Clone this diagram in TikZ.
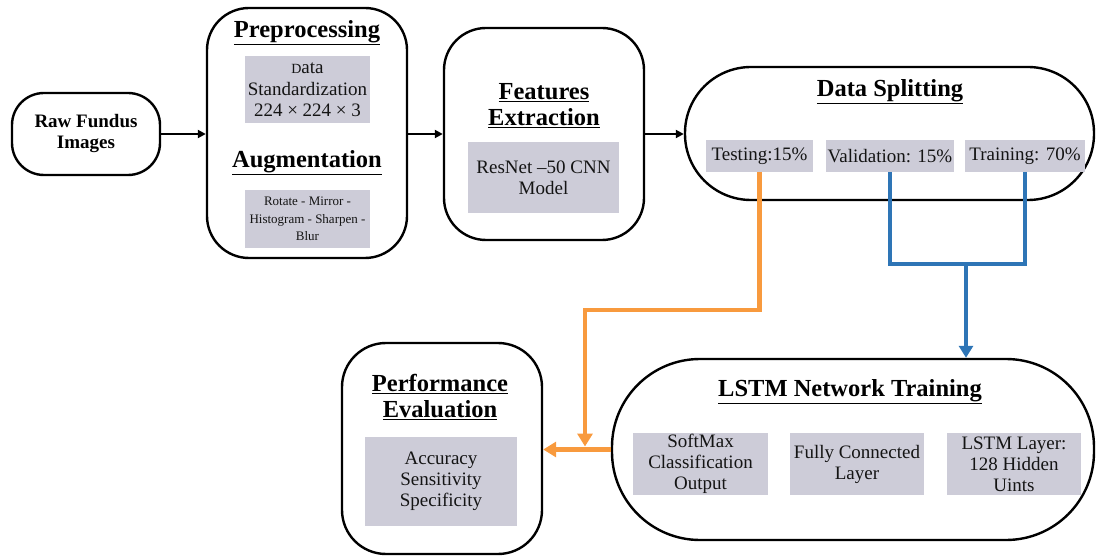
\documentclass[tikz,border=0pt]{standalone}
\usepackage{fontspec}
\setmainfont{Liberation Serif}
\usepackage{xcolor}
\usetikzlibrary{arrows.meta, positioning}
\definecolor{boxgray}{RGB}{205, 204, 216}
\definecolor{splitorange}{RGB}{248, 154, 62}
\definecolor{splitblue}{RGB}{46, 117, 182}
\newcommand{\fsz}[2]{\fontsize{#1}{#2}\selectfont}

\begin{document}
\begin{tikzpicture}[x=1pt, y=-1pt, >={Triangle[length=9pt, width=9pt]},
  blk/.style={draw=black, line width=2.4pt, fill=white},
  gbox/.style={fill=boxgray, inner sep=0pt, align=center, text=black!92},
  ttl/.style={font=\bfseries\fontsize{24.5}{26}\selectfont, align=center, inner sep=0pt},
  link/.style={line width=2pt, ->, >={Triangle[length=8pt, width=8pt]}},
  orng/.style={draw=splitorange, line width=4.5pt},
  blu/.style={draw=splitblue, line width=4.5pt}]
  \useasboundingbox (0,0) rectangle (1096,556);

  % stage boxes
  \node[blk, rounded corners=32pt, minimum width=148pt, minimum height=82pt,
        font=\bfseries\fontsize{19}{21}\selectfont, align=center] (raw) at (86,134) {Raw Fundus\\Images};
  \node[blk, rounded corners=42pt, minimum width=200pt, minimum height=250pt] (pre) at (307,133) {};
  \node[blk, rounded corners=42pt, minimum width=200pt, minimum height=212pt] (feat) at (544,134) {};
  \node[blk, rounded corners=66pt, minimum width=409pt, minimum height=133pt] (split) at (889.5,133.5) {};
  \node[blk, rounded corners=88pt, minimum width=482pt, minimum height=181pt] (lstm) at (853,449.5) {};
  \node[blk, rounded corners=44pt, minimum width=200pt, minimum height=211pt] (perf) at (442,448.5) {};

  % titles
  \node[ttl] (preT) at (307,33) {\underline{Preprocessing}};
  \node[ttl] (augT) at (307,163) {\underline{Augmentation}};
  \node[ttl] (featT) at (544,106) {\underline{Features}\\[0pt]\underline{Extraction}};
  \node[ttl] (splitT) at (890,92) {\underline{Data Splitting}};
  \node[ttl] (lstmT) at (850,392) {\underline{LSTM Network Training}};
  \node[ttl] (perfT) at (440,397) {\underline{Performance}\\[0pt]\underline{Evaluation}};

  % gray content boxes
  \node[gbox, minimum width=125pt, minimum height=67pt, font=\fsz{19}{21.5}] (std) at (307.5,90)
    {{\fsz{14}{14}D}ata\\Standardization\\224 × 224 × 3};
  \node[gbox, minimum width=125pt, minimum height=58pt, font=\fsz{13}{17.5}] (aug) at (307.5,219)
    {Rotate - Mirror -\\Histogram - Sharpen -\\Blur};
  \node[gbox, minimum width=151pt, minimum height=71pt, font=\fsz{19}{21}] (resnet) at (543.5,177.5)
    {ResNet –50 CNN\\Model};
  \node[gbox, minimum width=107pt, minimum height=32pt, font=\fsz{19}{21}] (test) at (759.5,156) {Testing:15\%};
  \node[gbox, minimum width=128pt, minimum height=32pt, font=\fsz{19}{21}] (val) at (890,156) {Validation: 15\%};
  \node[gbox, minimum width=120pt, minimum height=32pt, font=\fsz{19}{21}] (train) at (1025,156) {Training: 70\%};
  \node[gbox, minimum width=135pt, minimum height=62pt, font=\fsz{19}{21}] (soft) at (700.5,464)
    {SoftMax\\Classification\\Output};
  \node[gbox, minimum width=134pt, minimum height=62pt, font=\fsz{19}{21}] (fc) at (857,464)
    {Fully Connected\\Layer};
  \node[gbox, minimum width=134pt, minimum height=62pt, font=\fsz{19}{21}] (lyr) at (1014,464)
    {LSTM Layer:\\128 Hidden\\Uints};
  \node[gbox, minimum width=152pt, minimum height=89pt, font=\fsz{19}{21}] (metr) at (441,481.5)
    {Accuracy\\Sensitivity\\Specificity};

  % main flow
  \draw[link] (raw.east) -- (pre.west |- raw.east);
  \draw[link] (pre.east |- feat.west) -- (feat.west);
  \draw[link] (feat.east) -- (split.west |- feat.east);

  % split connectors
  \coordinate (jb) at (966,264);
  \coordinate (jo) at (585,310);
  \draw[blu, line join=miter] (val.south) |- (jb) -| (train.south);
  \draw[blu, ->, >={Triangle[length=12pt, width=14pt]}] (jb) -- (jb |- lstm.north);
  \draw[orng, ->, line join=miter, >={Triangle[length=13pt, width=15pt]}] (test.south) |- (jo) -- ([yshift=3pt]jo |- lstm.west);
  \draw[orng, ->, >={Triangle[length=13pt, width=15pt]}] (lstm.west) -- (perf.east |- lstm.west);
\end{tikzpicture}
\end{document}
